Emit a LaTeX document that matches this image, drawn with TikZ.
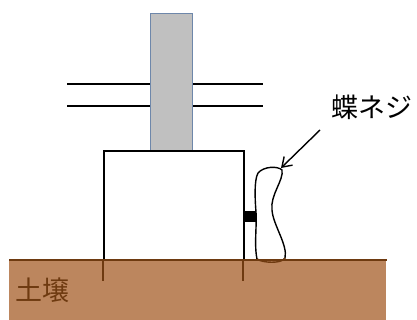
\documentclass[tikz,border=0pt]{standalone}
\usepackage{fontspec}
\newfontfamily\jpfont{Noto Sans CJK JP}
\usetikzlibrary{arrows.meta}
\definecolor{soil}{RGB}{188,134,94}
\definecolor{soilline}{RGB}{110,58,16}
\definecolor{post}{RGB}{192,192,192}
\definecolor{postedge}{RGB}{110,135,170}

\begin{document}
\begin{tikzpicture}[x=1pt,y=-1pt,line width=1.8pt,
    lbl/.style={inner sep=0pt,font=\jpfont\fontsize{27}{27}\selectfont}]
  \useasboundingbox (0,0) rectangle (417,320);
  % wires
  \draw (67,84) -- (263,84);
  \draw (67,106) -- (263,106);
  % post
  \node[draw=postedge,fill=post,line width=1pt,minimum width=42pt,minimum height=138pt,
        inner sep=0pt,anchor=north west] (post) at (150,13) {};
  % frame
  \draw (104,260) -- (104,151) -- (244,151) -- (244,260);
  \fill (244,211) rectangle (256,222);
  % screw
  \draw[fill=white,line width=1.4pt] (258,173) .. controls (264,166) and (278,166) .. (282,170)
    .. controls (284,180) and (270,195) .. (272,210)
    .. controls (273,225) and (288,245) .. (285,258)
    .. controls (282,264) and (262,263) .. (257,259)
    .. controls (254,245) and (257,225) .. (256,212)
    .. controls (255,200) and (254,180) .. (258,173) -- cycle;
  \coordinate (screw) at (281,168);
  % ground
  \fill[soil] (9,260) rectangle (386,320);
  \draw[soilline,line width=1.4pt] (257,259) .. controls (262,263) and (282,264) .. (285,258);
  \draw[soilline,line width=1.5pt] (9,260) -- (387,260);
  \draw[soilline,line width=1.3pt] (103,260) -- (103,281);
  \draw[soilline,line width=1.3pt] (243,260) -- (243,281);
  \node[lbl,text=soilline,anchor=north west] (soilname) at (15,277) {土壌};
  % label
  \node[lbl,anchor=north west] (screwname) at (331,94) {蝶ネジ};
  \draw[-{Straight Barb[length=9pt,width=12pt]},line width=1.4pt] (320,130) -- (screw);
\end{tikzpicture}
\end{document}
